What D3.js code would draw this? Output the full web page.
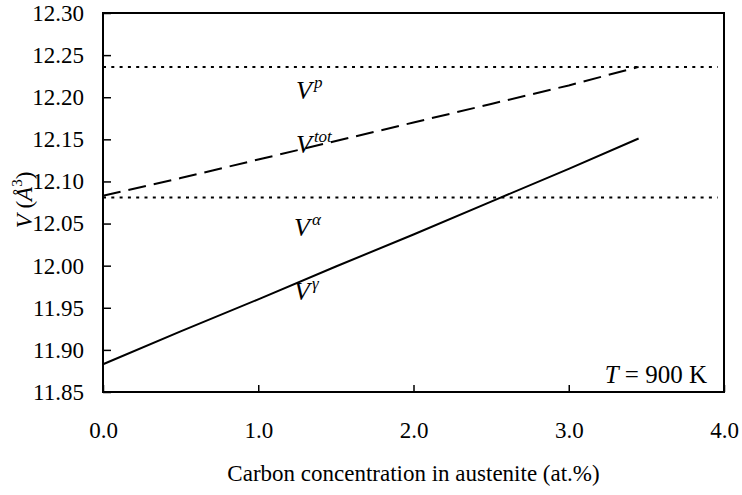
<html>
<head>
<script src="https://d3js.org/d3.v7.min.js"></script>
<style>
  body { margin: 0; background: #fff; }
</style>
</head>
<body>
<div id="chart"></div>
<script>
// values
const xTicks = [0, 1, 2, 3, 4];
const yTicks = [11.85, 11.90, 11.95, 12.00, 12.05, 12.10, 12.15, 12.20, 12.25, 12.30];
const conc = [0, 0.5, 1.0, 1.5, 2.0, 2.5, 3.0, 3.45];
const vTot = [12.083, 12.104, 12.126, 12.148, 12.170, 12.192, 12.214, 12.236];
const vGamma = [11.883, 11.922, 11.960, 11.999, 12.037, 12.076, 12.115, 12.151];
const vP = 12.236;
const vAlpha = 12.081;

const serif = "Liberation Serif";

const svg = d3.select("#chart").append("svg")
  .attr("width", 742).attr("height", 495)
  .attr("font-family", serif);

const margin = { top: 13, left: 103, right: 18, bottom: 103 };
const width = 742 - margin.left - margin.right;
const height = 495 - margin.top - margin.bottom;

const x = d3.scaleLinear().domain([0, 4]).range([margin.left, margin.left + width]);
const y = d3.scaleLinear().domain([11.85, 12.30]).range([margin.top + height, margin.top]);

// frame
svg.append("rect")
  .attr("x", x(0)).attr("y", y(12.30))
  .attr("width", x(4) - x(0)).attr("height", y(11.85) - y(12.30))
  .attr("fill", "none").attr("stroke", "#000").attr("stroke-width", 2);

// axes, ticks pointing inward
svg.append("g")
  .attr("transform", `translate(0,${y(11.85)})`)
  .call(d3.axisBottom(x).tickValues(xTicks).tickSizeInner(-7).tickSizeOuter(0).tickPadding(30).tickFormat(d3.format(".1f")))
  .call(g => g.select(".domain").remove())
  .call(g => g.selectAll("line").attr("stroke-width", 1.5))
  .call(g => g.selectAll("text").attr("font-family", serif).attr("font-size", 23));

svg.append("g")
  .attr("transform", `translate(${x(0)},0)`)
  .call(d3.axisLeft(y).tickValues(yTicks).tickSizeInner(-8).tickSizeOuter(0).tickPadding(19).tickFormat(d3.format(".2f")))
  .call(g => g.select(".domain").remove())
  .call(g => g.selectAll("line").attr("stroke-width", 1.5))
  .call(g => g.selectAll("text").attr("font-family", serif).attr("font-size", 23));

// horizontal dotted levels
[vP, vAlpha].forEach(v => {
  svg.append("line")
    .attr("x1", x(0)).attr("x2", x(3.96))
    .attr("y1", y(v)).attr("y2", y(v))
    .attr("stroke", "#000").attr("stroke-width", 2)
    .attr("stroke-dasharray", "3,5.3");
});

const line = d3.line().x(d => x(d[0])).y(d => y(d[1]));

svg.append("path")
  .datum(conc.map((c, i) => [c, vTot[i]]))
  .attr("d", line)
  .attr("fill", "none").attr("stroke", "#000").attr("stroke-width", 2)
  .attr("stroke-dasharray", "18,8");

svg.append("path")
  .datum(conc.map((c, i) => [c, vGamma[i]]))
  .attr("d", line)
  .attr("fill", "none").attr("stroke", "#000").attr("stroke-width", 2);

// curve labels
function vLabel(px, py, sup) {
  const t = svg.append("text").attr("x", px).attr("y", py)
    .attr("font-size", 26).attr("font-style", "italic");
  t.append("tspan").text("V");
  t.append("tspan").attr("dy", -11).attr("dx", 2).attr("font-size", 17).text(sup);
}
vLabel(296, 99, "p");
vLabel(296, 153, "tot");
vLabel(294, 236, "α");
vLabel(294, 300, "γ");

const tl = svg.append("text").attr("x", 707).attr("y", 383)
  .attr("text-anchor", "end").attr("font-size", 25);
tl.append("tspan").attr("font-style", "italic").text("T");
tl.append("tspan").text(" = 900 K");

// axis titles
svg.append("text")
  .attr("x", x(2)).attr("y", 481)
  .attr("text-anchor", "middle").attr("font-size", 23)
  .text("Carbon concentration in austenite (at.%)");

const yl = svg.append("text")
  .attr("transform", "translate(32,200) rotate(-90)")
  .attr("text-anchor", "middle").attr("font-size", 23);
yl.append("tspan").attr("font-style", "italic").text("V");
yl.append("tspan").text(" (");
yl.append("tspan").attr("font-style", "italic").text("Å");
yl.append("tspan").attr("dy", -10).attr("font-size", 15).text("3");
yl.append("tspan").attr("dy", 10).text(")");
</script>
</body>
</html>
